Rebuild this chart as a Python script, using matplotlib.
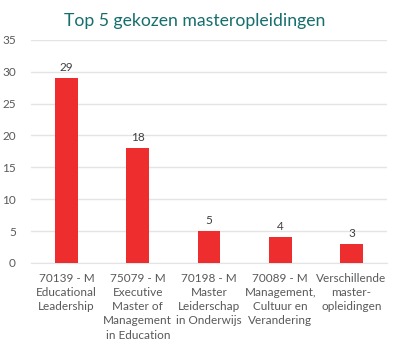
import numpy as np
import matplotlib.pyplot as plt

categories = [
    "70139 - M\nEducational\nLeadership",
    "75079 - M\nExecutive\nMaster of\nManagement\nin Education",
    "70198 - M\nMaster\nLeiderschap\nin Onderwijs",
    "70089 - M\nManagement,\nCultuur en\nVerandering",
    "Verschillende\nmaster-\nopleidingen",
]
values = [29, 18, 5, 4, 3]
yticks = [0, 5, 10, 15, 20, 25, 30, 35]

plt.rcParams['font.family'] = ['Lato', 'DejaVu Sans']
grey = '#595959'

fig = plt.figure(figsize=(3.97, 3.5), dpi=100)
ax = fig.add_axes([0.078, 0.249, 0.897, 0.637])

x = np.arange(len(values))
bars = ax.bar(x, values, width=0.32, color='#EE2E2E', zorder=3)
for xi, v in zip(x, values):
    ax.text(xi, v + 0.8, str(v), ha='center', va='bottom', fontsize=8.5, color='#404040')

ax.set_xlim(-0.5, len(values) - 0.5)
ax.set_ylim(0, 35)
ax.set_yticks(yticks)
ax.set_xticks(x)
ax.set_xticklabels(categories, fontsize=8.5, color=grey, linespacing=1.36)
ax.tick_params(axis='y', labelsize=8.5, colors=grey, length=0, pad=11)
ax.tick_params(axis='x', length=0, pad=7)
ax.grid(axis='y', color='#e4e4e4', linewidth=1, zorder=0)
for s in ['top', 'right', 'left']:
    ax.spines[s].set_visible(False)
ax.spines['bottom'].set_color('#e4e4e4')

fig.text(0.49, 0.94, "Top 5 gekozen masteropleidingen", ha='center', va='center',
         fontsize=12.7, color='#166E6E')

fig.savefig("out.png", dpi=100)
